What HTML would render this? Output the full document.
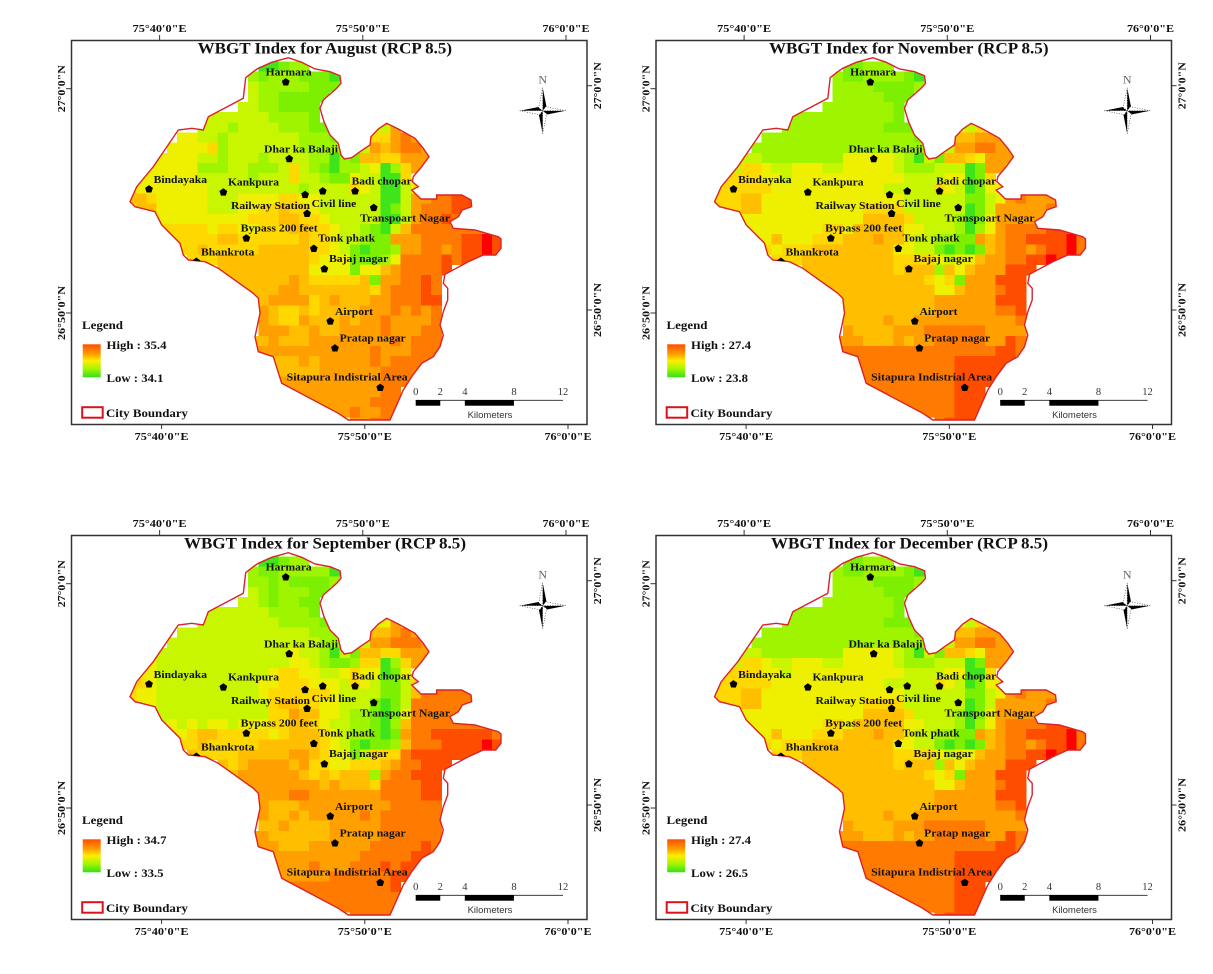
<!DOCTYPE html>
<html lang="en">
<head>
<meta charset="utf-8">
<title>WBGT Index maps (RCP 8.5)</title>
<style>
html,body{margin:0;padding:0;background:#fff;width:1213px;height:974px;overflow:hidden}
svg{display:block;filter:blur(.3px)}
text{font-family:"Liberation Serif",serif;font-weight:bold;fill:#111}
</style>
</head>
<body>
<svg id="root" xmlns="http://www.w3.org/2000/svg" width="1213" height="974" viewBox="0 0 1213 974"></svg>
<script>
/* ---------- data ---------- */
const months = ['August','November','September','December'];
const highValues = [35.4,27.4,34.7,27.4];
const lowValues = [34.1,23.8,33.5,26.5];
const scaleLabels = [0,2,4,8,12];
const lonTicks = [40,50,60];
const lonTickLabels = ['75°40\'0"E','75°50\'0"E','76°0\'0"E'];
const latTicks = [60,50];
const latTickLabels = ['27°0\'0"N','26°50\'0"N'];
/* first grid column of each raster row */
const rowStarts = [13,12,12,12,11,8,7,5,4,3,2,1,0,0,0,2,3,4,5,6,9,10,11,12,13,13,13,12,12,14,14,15,15,17,19,22];
/* raster class per cell: 0 = lowest (green) ... 10 = highest (red) */
const augustLevels = [
[0,0,1,2,2],
[2,1,2,2,2,1,1,1,0],
[3,2,2,2,2,2,1,1,1],
[3,2,2,1,1,1,1,1],
[3,3,2,2,1,1,1,1],
[3,3,3,3,3,3,2,2,2,2,1],
[3,3,3,2,3,3,3,3,2,2,2,1,1,1,3,3,3,3,3,7],
[4,4,3,3,2,3,3,3,3,3,3,3,2,2,2,1,3,3,3,5,5,7,8,7],
[4,4,4,4,5,2,3,3,3,3,3,3,3,2,2,2,2,3,3,3,7,6,7,8,8,7],
[4,4,4,4,3,3,2,3,3,3,2,3,3,3,3,2,2,0,2,1,6,6,5,5,7,7,7],
[4,4,4,4,4,2,2,2,3,3,2,2,2,3,5,3,2,1,0,2,2,3,4,0,2,5,7,7],
[4,4,4,4,4,4,3,3,3,3,3,2,3,3,3,5,3,3,2,1,1,4,3,3,0,0,5],
[5,4,4,4,4,4,4,4,3,3,3,3,3,3,3,3,3,2,3,3,3,3,5,4,3,0,0,3,4],
[6,6,5,4,4,4,4,4,3,3,3,4,4,4,4,5,5,4,4,3,3,3,3,3,3,0,0,3,7,7,8,8,9,9],
[5,6,6,4,4,4,4,4,3,3,3,4,4,5,5,6,5,5,4,3,3,3,3,3,3,0,1,3,7,8,8,8,9,9],
[5,4,4,4,4,4,4,4,4,4,5,5,5,6,6,5,5,4,3,3,3,3,3,0,0,3,7,8,8,9,8],
[5,5,5,5,5,4,5,5,4,4,5,5,5,6,6,5,5,4,3,3,2,1,0,3,6,8,8,8,8,8,8,8,8],
[5,5,5,5,5,6,6,5,5,5,5,5,5,6,5,5,4,3,3,2,1,1,7,7,7,8,8,8,8,9,9,10,9],
[5,5,6,5,5,5,5,5,6,6,6,6,6,5,5,4,3,1,0,1,1,2,7,7,8,8,7,8,9,9,10,9],
[5,5,5,6,6,6,6,6,6,6,6,6,5,4,4,4,1,1,1,2,4,8,8,8,8,9,8,9,9],
[6,6,6,6,6,6,6,6,6,4,4,4,4,1,4,4,6,7,8,8,8,8,9],
[6,6,6,6,6,6,7,6,5,5,5,5,5,6,1,7,7,8,8,9,8],
[6,6,6,6,7,7,6,6,6,6,6,6,6,5,7,8,8,8,9,8],
[6,6,7,7,7,7,5,6,7,6,6,6,7,7,8,8,8,9,9],
[7,6,5,5,6,5,6,6,6,6,7,7,7,8,7,8,7,8],
[7,6,5,5,7,6,6,6,7,6,7,7,8,7,7,7,7,8],
[7,7,7,6,6,7,6,6,7,7,7,7,8,7,7,7,8,8],
[6,6,7,6,6,6,7,7,7,7,7,7,7,7,8,7,8,8,8],
[7,7,7,7,7,7,7,7,7,7,7,7,8,7,7,7,8,8,8],
[6,6,6,7,6,7,7,7,7,7,8,7,8,8,8,8],
[6,6,6,6,6,7,7,7,7,7,7,8,8,8,8],
[7,7,7,7,7,7,7,7,7,7,8,8,8],
[7,7,7,7,7,7,7,7,7,7,8,8],
[7,7,7,7,7,7,7,8,8,8],
[7,7,7,8,7,7,8,8],
[7,7,8,8]
];
const novemberLevels = [
[1,1,2,2,2],
[2,1,1,2,2,2,2,1,0],
[2,2,2,2,1,1,1,1,2],
[2,2,2,2,2,1,1,1],
[2,2,2,2,2,2,2,1],
[2,2,2,2,2,2,2,2,2,2,1],
[2,2,2,2,2,2,2,2,2,2,1,1,1,1,3,3,3,4,3,5],
[2,2,2,2,2,2,2,2,2,2,2,2,2,2,2,1,3,3,3,6,6,7,7,7],
[2,2,2,2,2,2,2,2,2,2,2,2,2,2,2,2,2,3,3,3,7,7,8,8,7,7],
[3,3,2,2,2,2,2,2,2,2,4,4,4,4,4,3,2,0,3,1,6,6,5,4,7,7,7],
[3,5,5,4,3,3,4,4,4,3,3,4,4,4,4,4,3,2,2,2,3,3,3,0,1,7,7,6],
[5,5,5,5,4,4,3,4,4,4,4,4,4,4,4,4,4,4,3,3,3,3,4,4,0,1,5],
[5,5,5,5,5,5,4,4,4,4,4,4,4,4,4,4,4,3,3,3,3,3,5,4,3,0,1,4,4],
[5,5,5,6,6,4,4,4,4,4,4,4,4,4,4,4,4,4,4,3,3,3,3,3,3,1,1,3,4,7,8,7,7,7],
[5,5,5,6,6,4,4,4,4,4,4,4,4,4,4,5,5,5,5,3,3,3,3,3,3,0,1,3,7,7,7,7,7,8],
[4,4,4,4,4,4,4,4,4,4,4,4,4,6,6,6,6,5,3,3,3,3,2,0,1,4,7,7,7,7,7],
[4,4,4,4,4,4,4,4,5,5,4,6,6,6,6,6,4,4,3,3,3,2,0,2,4,7,8,8,8,8,9,9,9],
[4,4,6,4,4,4,5,5,5,6,6,6,7,6,6,4,3,3,2,2,1,1,7,6,7,8,8,9,9,9,9,10,8],
[5,4,5,5,5,6,6,6,6,6,6,6,6,4,4,3,3,1,0,1,0,1,6,7,8,8,7,8,9,9,10,8],
[5,5,5,6,6,6,6,6,6,6,6,6,5,5,5,5,4,3,4,4,6,7,7,8,8,9,9,10,9],
[6,6,6,6,6,6,6,6,6,5,6,6,6,2,6,4,6,7,7,7,9,9,9],
[6,6,6,6,6,6,6,6,6,6,6,5,4,5,1,7,7,7,9,9,9],
[6,6,6,6,6,6,6,6,6,6,6,4,4,6,7,7,7,8,9,9],
[6,6,6,6,6,6,6,6,6,6,7,7,7,7,7,7,9,9,9],
[6,6,6,6,6,6,6,6,6,7,7,7,7,7,7,8,8,9],
[6,6,6,6,7,6,6,7,7,7,7,7,7,7,7,7,7,8],
[7,6,6,6,6,7,7,7,8,8,8,8,8,8,7,7,7,7],
[7,7,7,6,6,6,7,6,7,7,8,8,8,8,8,7,7,9,8],
[8,8,8,8,8,8,8,8,8,8,8,8,8,8,8,8,9,9,8],
[8,8,8,8,8,8,8,8,8,8,9,9,9,9,9,9],
[8,8,8,8,8,8,8,8,8,8,9,9,9,9,9],
[8,8,8,8,8,8,8,8,8,9,9,9,9],
[8,8,8,8,8,8,8,8,8,9,9,9],
[8,8,8,8,8,8,8,9,9,9],
[8,8,8,8,8,9,9,9],
[8,9,9,9]
];
const septemberLevels = [
[0,0,1,2,2],
[2,1,1,2,2,2,2,2,0],
[2,2,1,2,1,1,1,1,2],
[3,2,1,2,2,2,1,1],
[3,3,2,1,2,2,1,1],
[3,3,3,3,3,3,2,2,2,2,1],
[3,3,3,3,3,3,3,3,2,2,2,2,1,1,3,3,3,3,4,7],
[3,3,3,3,3,3,3,3,3,3,3,3,3,2,2,2,3,3,3,6,6,7,8,7],
[3,3,3,3,3,3,3,3,3,3,3,3,3,3,3,2,2,3,3,3,7,7,8,8,8,7],
[3,3,3,3,3,3,3,3,3,3,3,3,3,4,3,3,2,0,3,1,6,6,5,5,7,7,7],
[4,3,3,3,3,3,3,3,3,3,3,3,3,3,4,4,3,2,1,1,2,5,5,0,2,5,7,7],
[4,4,3,3,3,3,3,3,3,3,3,3,3,4,5,5,4,4,3,3,4,5,4,4,0,1,4],
[5,5,4,3,3,3,3,3,3,3,3,3,3,4,4,5,5,5,4,4,4,3,5,4,3,1,1,3,5],
[5,4,4,3,3,3,3,3,3,3,3,3,3,4,5,5,5,5,5,5,4,3,3,3,3,1,1,3,6,8,8,8,8,8],
[5,4,4,3,3,3,3,3,3,3,3,3,3,3,5,6,6,5,5,4,4,3,3,3,1,0,1,3,8,8,8,8,8,8],
[3,3,3,3,3,3,3,3,3,3,3,3,5,5,7,6,6,4,4,3,2,2,1,0,1,4,8,8,8,8,8],
[3,4,3,4,3,4,4,3,4,4,4,5,5,6,6,5,4,3,3,2,2,1,0,2,6,8,8,8,8,8,8,8,8],
[4,4,5,6,6,5,5,5,5,5,4,5,6,6,6,5,4,3,2,2,1,0,1,7,8,8,9,9,9,9,9,9,8],
[5,5,6,5,5,5,5,5,6,6,6,6,6,6,5,4,3,1,0,1,1,2,6,8,8,8,9,9,9,9,10,9],
[6,5,5,5,5,6,6,6,6,6,7,7,6,5,4,4,1,3,5,5,5,8,9,9,9,9,9,9,9],
[6,5,6,7,7,7,7,6,7,5,5,4,4,5,5,5,6,7,8,8,9,9,9],
[6,7,7,7,7,7,7,6,5,6,5,6,6,6,2,7,8,8,9,9,9],
[7,7,7,7,7,7,7,7,6,7,6,6,6,5,8,8,8,8,9,9],
[7,7,7,7,8,8,7,7,7,7,7,7,7,8,8,8,8,9,9],
[7,6,6,6,7,7,7,7,7,7,7,7,7,8,8,8,8,8],
[7,6,6,7,6,7,7,7,7,7,8,7,8,8,8,8,8,8],
[6,6,7,6,6,6,6,7,7,7,7,7,8,8,8,8,8,8],
[7,7,6,6,6,6,6,6,7,7,7,7,7,8,8,8,8,8,8],
[7,7,7,6,6,6,7,7,7,7,7,7,8,8,8,8,8,9,8],
[7,7,7,7,7,7,7,7,7,8,8,8,8,8,9,9],
[7,7,7,7,8,7,7,7,8,8,8,9,8,9,9],
[7,7,7,7,7,8,8,8,8,8,8,9,9],
[8,8,8,8,8,8,8,8,8,8,8,9],
[8,8,8,8,8,8,8,8,8,8],
[8,8,8,8,8,8,8,8],
[8,8,8,8]
];
const decemberLevels = [
[1,1,2,2,2],
[2,1,1,2,2,2,2,1,0],
[2,2,2,2,1,1,1,1,2],
[2,2,2,2,2,1,1,1],
[2,2,2,2,2,2,2,1],
[2,2,2,2,2,2,2,2,2,2,1],
[2,2,2,2,2,2,2,2,2,2,1,1,1,1,3,3,3,4,3,5],
[2,2,2,2,2,2,2,2,2,2,2,2,2,2,2,1,3,3,3,6,6,7,7,7],
[2,2,2,2,2,2,2,2,2,2,2,2,2,2,2,2,2,3,3,3,7,7,8,8,7,7],
[3,3,2,2,2,2,2,2,2,2,4,4,4,4,4,3,2,0,3,1,6,6,5,4,7,7,7],
[3,5,5,4,3,3,4,4,4,3,3,4,4,4,4,4,3,2,2,2,3,3,3,0,1,7,7,6],
[5,5,5,5,4,4,3,4,4,4,4,4,4,4,4,4,4,4,3,3,3,3,4,4,0,0,5],
[5,5,5,5,5,5,4,4,4,4,4,4,4,4,4,4,4,3,3,3,3,3,5,4,3,0,1,4,4],
[5,5,5,6,6,4,4,4,4,4,4,4,4,4,4,4,4,4,4,3,3,3,3,3,3,1,1,3,4,7,8,7,7,7],
[5,5,5,6,6,4,4,4,4,4,4,4,4,4,4,5,5,5,5,3,3,3,3,3,3,0,1,3,7,7,7,7,7,8],
[4,4,4,4,4,4,4,4,4,4,4,4,4,6,6,6,6,5,3,3,3,3,2,0,1,4,7,7,7,7,7],
[4,4,4,4,4,4,4,4,5,5,4,6,6,6,6,6,4,4,3,3,3,2,0,2,4,7,8,8,8,8,9,9,9],
[4,4,6,4,4,4,5,5,5,6,6,6,7,6,6,4,3,3,2,2,1,1,7,6,7,8,8,9,9,9,9,10,8],
[5,4,5,5,5,6,6,6,6,6,6,6,6,4,4,3,3,1,0,1,0,1,6,7,8,8,7,8,9,9,10,8],
[5,5,5,6,6,6,6,6,6,6,6,6,5,5,5,5,4,3,4,4,6,7,7,8,8,9,9,10,9],
[6,6,6,6,6,6,6,6,6,5,6,6,6,2,6,4,6,7,7,7,9,9,9],
[6,6,6,6,6,6,6,6,6,6,6,5,4,5,1,7,7,7,9,9,9],
[6,6,6,6,6,6,6,6,6,6,6,4,4,6,7,7,7,8,9,9],
[6,6,6,6,6,6,6,6,6,6,7,7,7,7,7,7,9,9,9],
[6,6,6,6,6,6,6,6,6,7,7,7,7,7,7,8,8,9],
[6,6,6,6,7,6,6,7,7,7,7,7,7,7,7,7,7,8],
[7,6,6,6,6,7,7,7,8,8,8,8,8,8,7,7,7,7],
[7,7,7,6,6,6,7,6,7,7,8,8,8,8,8,7,7,9,8],
[8,8,8,8,8,8,8,8,8,8,8,8,8,8,8,8,9,9,8],
[8,8,8,8,8,8,8,8,8,8,9,9,9,9,9,9],
[8,8,8,8,8,8,8,8,8,8,9,9,9,9,9],
[8,8,8,8,8,8,8,8,8,9,9,9,9],
[8,8,8,8,8,8,8,8,8,9,9,9],
[8,8,8,8,8,8,8,9,9,9],
[8,8,8,8,8,9,9,9],
[8,9,9,9]
];
const panelLevels = [augustLevels,novemberLevels,septemberLevels,decemberLevels];
/* site locations: arc-minutes past 75°E and past 26°N */
const siteLonMinutes = [46.11,46.28,39.38,43.04,47.06,47.93,49.52,50.44,47.16,44.17,47.49,48.01,41.71,48.30,48.53,50.76];
const siteLatMinutes = [60.29,56.87,55.52,55.38,55.27,55.43,55.43,54.69,54.43,53.33,52.87,51.96,52.29,49.63,48.43,46.67];

/* ---------- scales ---------- */
const levelColors = ['#3fe51a','#7cf000','#9ff500','#c8f500','#eef000','#ffd800','#ffbf00','#ff9f00','#ff7a00','#ff4d00','#ff0000'];
const colorScale = l => levelColors[l];
const colX = c => 126.1 + 10.17 * c;
const rowY = r => 61.3 + 10.17 * r;
const lonX = m => 161.6 + (m - 40) * 20.32;
const latY = m => 313 - (m - 50) * 22.43;
const kmX = k => 415.7 + k * 12.28;

const SVGNS = 'http://www.w3.org/2000/svg';
const root = document.getElementById('root');
function make(tag, attrs, parent){
  const e = document.createElementNS(SVGNS, tag);
  for (const k in attrs) e.setAttribute(k, attrs[k]);
  parent.appendChild(e);
  return e;
}
function label(parent, str, x, y, size, width, anchor){
  const t = make('text', {x:x, y:y, 'font-size':size, 'text-anchor':anchor || 'start'}, parent);
  if (width) { t.setAttribute('textLength', width); t.setAttribute('lengthAdjust', 'spacingAndGlyphs'); }
  t.textContent = str;
  return t;
}

const outline = [[362,68],[385,50],[400,40],[440,22],[490,8],[530,22],[570,42],[615,50],[645,62],[648,85],[635,100],[595,135],[585,160],[597,200],[615,240],[640,265],[648,300],[658,312],[680,308],[705,290],[735,270],[738,245],[760,222],[785,205],[820,222],[870,250],[895,280],[912,305],[890,335],[865,365],[862,380],[880,395],[860,405],[888,432],[935,432],[935,420],[1010,420],[1038,435],[1040,455],[1012,465],[1000,485],[975,500],[985,520],[1050,525],[1120,545],[1128,552],[1128,580],[1112,600],[1075,600],[1030,620],[960,658],[955,685],[968,700],[968,735],[955,770],[945,810],[955,840],[945,875],[925,905],[890,925],[860,965],[835,1005],[795,1095],[670,1095],[640,1075],[470,985],[445,905],[400,890],[390,845],[405,775],[400,730],[385,715],[280,640],[240,620],[190,615],[175,600],[165,565],[150,550],[110,510],[90,470],[30,455],[15,440],[35,395],[85,335],[160,225],[200,220],[235,225],[250,185],[355,130]];
const boundaryPath = 'M' + outline.map(p => (125 + p[0] / 3).toFixed(1) + ',' + (55 + p[1] / 3).toFixed(1)).join('L') + 'Z';

const defs = make('defs', {}, root);
const clip = make('clipPath', {id:'city-clip'}, defs);
make('path', {d:boundaryPath}, clip);
const grad = make('linearGradient', {id:'ramp', x1:0, y1:0, x2:0, y2:1}, defs);
[['0','#ff4d00'],['.3','#ffa000'],['.5','#ffee00'],['.75','#a0f500'],['1','#33e01a']].forEach(s => {
  make('stop', {offset:s[0], 'stop-color':s[1]}, grad);
});

const panelDx = [0,584.5,0,584.5];
const panelDy = [0,0,495,495];
const titleSpans = [[197.7,452],[184.5,464],[184,466],[186.5,463.5]];
/* title extents: August, November, September, December */
const siteLabels = [
  ['Harmara',265.7,75.7,46],['Dhar ka Balaji',264,152.7,74],['Bindayaka',153.7,183,53.3],['Kankpura',228,185.7,51],
  ['Badi chopar',351.7,184.3,60],['Railway Station',231,209,79],['Civil line',311.7,207,44.6],['Transpoart Nagar',360,221.7,90],
  ['Bypass 200 feet',240.7,231.7,77],['Tonk phatk',318,241.7,57],['Bhankrota',201,255.7,53.3],['Bajaj nagar',329,262,59.3],
  ['Airport',335,315,38],['Pratap nagar',339.7,341.7,66],['Sitapura Indistrial Area',286.7,380.7,121]
];

months.forEach((month, p) => {
  const g = make('g', {transform:'translate(' + panelDx[p] + ',' + panelDy[p] + ')'}, root);
  
  

  /* raster */
  const raster = make('g', {'clip-path':'url(#city-clip)', 'shape-rendering':'crispEdges'}, g);
  
  
  panelLevels[p].forEach((row, r) => {
    row.forEach((level, i) => {
      const cell = make('rect', {x:colX(rowStarts[r] + i).toFixed(2), y:rowY(r).toFixed(2), width:10.6, height:10.6, fill:colorScale(level)}, raster);
      
      
    });
  });

  /* boundary */
  const boundary = make('path', {d:boundaryPath, fill:'none', stroke:'#d9232b', 'stroke-width':1.4}, g);
  
  

  /* frame */
  const frame = make('rect', {x:71.5, y:40.5, width:515.5, height:384, fill:'none', stroke:'#333', 'stroke-width':1.5}, g);
  
  

  /* longitude ticks */
  lonTicks.forEach((m, i) => {
    const x = lonX(m);
    const tb = make('line', {x1:x, x2:x, y1:424, y2:429, stroke:'#333', 'stroke-width':1}, g);
    
    
    const tt = make('line', {x1:x - 2, x2:x - 2, y1:35, y2:40, stroke:'#333', 'stroke-width':1}, g);
    
    
    const w = i === 2 ? 47 : 54;
    const lb = label(g, lonTickLabels[i], x - w / 2, 440, 11, w);
    
    
    const lt = label(g, lonTickLabels[i], x - 2 - w / 2, 32, 11, w);
    
    
  });

  /* latitude ticks */
  latTicks.forEach((m, i) => {
    const y = latY(m);
    const tl = make('line', {x1:66, x2:71, y1:y, y2:y, stroke:'#333', 'stroke-width':1}, g);
    
    
    const tr = make('line', {x1:587, x2:592, y1:y - 3, y2:y - 3, stroke:'#333', 'stroke-width':1}, g);
    
    
    const w = i === 0 ? 47 : 54;
    const ll = label(g, latTickLabels[i], 0, 0, 11, w);
    ll.setAttribute('transform', 'translate(65,' + (y + w / 2) + ') rotate(-90)');
    
    
    const lr = label(g, latTickLabels[i], 0, 0, 11, w);
    lr.setAttribute('transform', 'translate(601,' + (y - 3 + w / 2) + ') rotate(-90)');
    
    
  });

  /* title */
  const span = titleSpans[p];
  const title = label(g, 'WBGT Index for ' + month + ' (RCP 8.5)', span[0], 53.5, 15.5, span[1] - span[0]);
  
  

  /* site markers */
  siteLonMinutes.forEach((lon, i) => {
    const cx = lonX(lon), cy = latY(siteLatMinutes[i]);
    const pts = [0,1,2,3,4].map(k => {
      const a = -Math.PI / 2 + k * 2 * Math.PI / 5;
      return (cx + 4.1 * Math.cos(a)).toFixed(2) + ',' + (cy + 4.1 * Math.sin(a)).toFixed(2);
    }).join(' ');
    const attrs = {points:pts, fill:'#000'};
    if (i === 12) attrs['clip-path'] = 'url(#city-clip)';
    const mk = make('polygon', attrs, g);
    
    
  });

  /* site labels */
  siteLabels.forEach(s => {
    const t = label(g, s[0], s[1], s[2], 11, s[3]);
    
    
  });

  /* legend */
  const lt = label(g, 'Legend', 82, 329, 12, 41);
  
  
  const ramp = make('rect', {x:82.7, y:344.3, width:18, height:33, fill:'url(#ramp)'}, g);
  
  
  const hi = label(g, 'High : ' + highValues[p].toFixed(1), 106.5, 349, 12, 60);
  
  
  const lo = label(g, 'Low : ' + lowValues[p].toFixed(1), 106.5, 382, 12, 57);
  
  
  const cb = make('rect', {x:82.2, y:407.2, width:20.5, height:10.5, fill:'#fff', stroke:'#d9131c', 'stroke-width':2}, g);
  
  
  const cbt = label(g, 'City Boundary', 106, 417, 12, 82);
  
  

  /* north arrow */
  const na = make('g', {transform:'translate(542.7,110.7)'}, g);
  
  
  ['M0,-23L4,-3L0,0Z','M23,0L3,4L0,0Z','M0,23L-4,3L0,0Z','M-23,0L-3,-4L0,0Z'].forEach(d => {
    make('path', {d:d, fill:'#000'}, na);
  });
  ['M0,-23L-4,-3L0,0Z','M23,0L3,-4L0,0Z','M0,23L4,3L0,0Z','M-23,0L-3,4L0,0Z'].forEach(d => {
    make('path', {d:d, fill:'#fff', stroke:'#333', 'stroke-width':.6, 'stroke-dasharray':'1 1.5'}, na);
  });
  const nl = make('text', {x:0, y:-27, 'font-size':12, 'text-anchor':'middle', style:'font-weight:normal;fill:#666'}, na);
  nl.textContent = 'N';

  /* scale bar */
  const sb = make('g', {}, g);
  
  
  make('line', {x1:kmX(0), x2:kmX(12), y1:400.3, y2:400.3, stroke:'#222', 'stroke-width':.8}, sb);
  make('rect', {x:kmX(0), y:400, width:kmX(2) - kmX(0), height:5.7, fill:'#000'}, sb);
  make('rect', {x:kmX(4), y:400, width:kmX(8) - kmX(4), height:5.7, fill:'#000'}, sb);
  scaleLabels.forEach(k => {
    const t = make('text', {x:kmX(k), y:395, 'font-size':10.5, 'text-anchor':'middle', style:'font-weight:normal;fill:#333'}, sb);
    t.textContent = k;
  });
  const km = make('text', {x:490, y:418, 'font-size':9.5, 'text-anchor':'middle', style:'font-family:\'Liberation Sans\',sans-serif;font-weight:normal;fill:#333'}, sb);
  km.textContent = 'Kilometers';
});
</script>
</body>
</html>
